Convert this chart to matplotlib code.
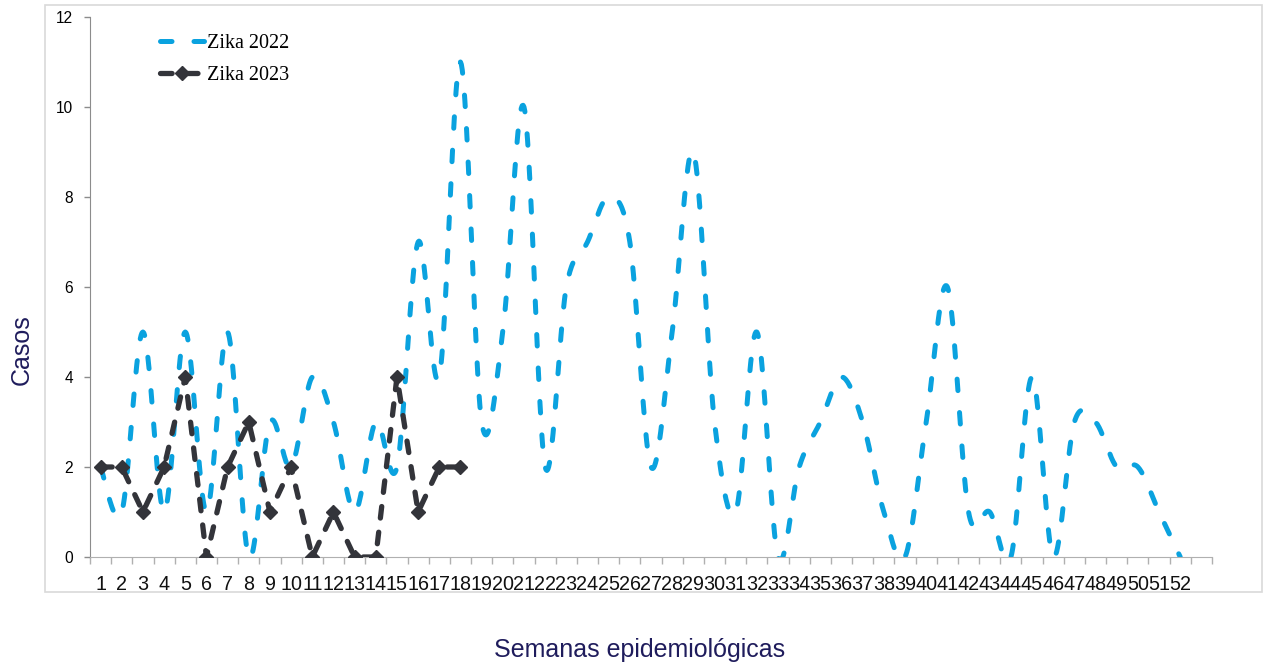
import matplotlib
matplotlib.use("Agg")
import matplotlib.pyplot as plt
from matplotlib.patches import Rectangle
import numpy as np

weeks = list(range(1, 53))
week_labels = [str(w) for w in weeks]
zika_2022 = [2, 1, 5, 1, 5, 1, 5, 0, 3, 2, 4, 3, 1, 3, 2, 7, 4, 11, 3, 5,
             10, 2, 6, 7, 8, 7, 2, 5, 9, 3, 1, 5, 0, 2, 3, 4, 3, 1, 0, 3,
             6, 1, 1, 0, 4, 0, 3, 3, 2, 2, 1, 0]
weeks_2023 = list(range(1, 19))
zika_2023 = [2, 2, 1, 2, 4, 0, 2, 3, 1, 2, 0, 1, 0, 0, 4, 1, 2, 2]

blue = "#0aa2df"
dark = "#33343a"
navy = "#1f1c5c"


def smooth(x, y, n=24):
    # Excel-like smoothed line (Catmull-Rom as cubic Bezier)
    x = np.asarray(x, float)
    y = np.asarray(y, float)
    px = np.concatenate([[x[0]], x, [x[-1]]])
    py = np.concatenate([[y[0]], y, [y[-1]]])
    t = np.linspace(0, 1, n, endpoint=False)[:, None]
    out = []
    for i in range(len(x) - 1):
        p0 = np.array([px[i], py[i]])
        p1 = np.array([px[i + 1], py[i + 1]])
        p2 = np.array([px[i + 2], py[i + 2]])
        p3 = np.array([px[i + 3], py[i + 3]])
        c1 = p1 + (p2 - p0) / 6
        c2 = p2 - (p3 - p1) / 6
        seg = ((1 - t) ** 3) * p1 + 3 * ((1 - t) ** 2) * t * c1 \
            + 3 * (1 - t) * t ** 2 * c2 + t ** 3 * p2
        out.append(seg)
    out.append(np.array([[x[-1], y[-1]]]))
    pts = np.vstack(out)
    return pts[:, 0], pts[:, 1]


fig = plt.figure(figsize=(12.68, 6.67), dpi=100)
ax = fig.add_axes([90 / 1268, 1 - 557 / 667, 1122 / 1268, 540 / 667])

# chart area border
fig.patches.append(Rectangle((45 / 1268, 1 - 592 / 667), 1217 / 1268, 587 / 667,
                             transform=fig.transFigure, fill=False,
                             edgecolor="#d9d9d9", linewidth=1.2))

sx, sy = smooth(weeks, zika_2022)
ax.plot(sx, sy, color=blue, linewidth=3.6, dashes=(2.3, 4.4),
        dash_capstyle="round", label="Zika 2022", zorder=2)
ax.plot(weeks_2023, zika_2023, color=dark, linewidth=3.8, dashes=(2.2, 2.7),
        dash_capstyle="round", marker="D", markersize=7,
        label="Zika 2023", zorder=3)

ax.set_xlim(0.5, 53.5)
ax.set_ylim(0, 12)
ax.set_yticks(range(0, 13, 2))

ax.set_xticks(np.arange(0.5, 54, 1))
ax.set_xticklabels([])
ax.set_xticks(weeks, minor=True)
ax.set_xticklabels(week_labels, minor=True, fontsize=14.2,
                   fontfamily="Liberation Sans", color="#111111")
ax.tick_params(axis="x", which="major", length=5, color="#b0b0b0", width=1)
ax.tick_params(axis="x", which="minor", length=0, pad=13)
ax.tick_params(axis="y", length=4, color="#8c8c8c", width=1, pad=8,
               labelsize=11.2)
for lbl in ax.get_yticklabels():
    lbl.set_fontfamily("Liberation Sans")

for s in ["top", "right"]:
    ax.spines[s].set_visible(False)
ax.spines["left"].set_color("#8c8c8c")
ax.spines["bottom"].set_color("#b0b0b0")

ax.legend(loc="upper left", bbox_to_anchor=(0.0624, 0.968), frameon=False,
          borderpad=0, borderaxespad=0, handlelength=2.2, handletextpad=0.15,
          labelspacing=0.62, prop={"family": "Liberation Serif", "size": 14.5})

fig.text(22 / 1268, 1 - 350 / 667, "Casos", rotation=90, ha="center",
         va="center", fontsize=18, color=navy, fontfamily="Liberation Sans")
fig.text(640 / 1268, 1 - 650 / 667, "Semanas epidemiológicas", ha="center",
         va="center", fontsize=18, color=navy, fontfamily="Liberation Sans")

fig.savefig("out.png", dpi=100)
